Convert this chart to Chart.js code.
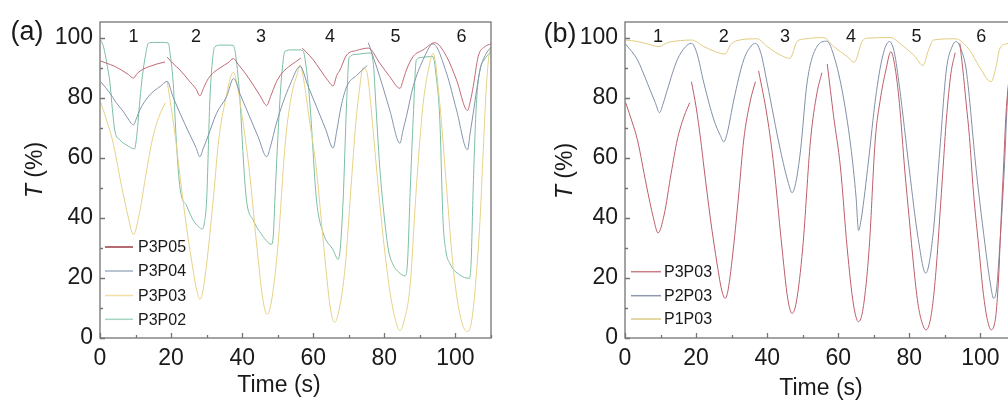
<!DOCTYPE html>
<html>
<head>
<meta charset="utf-8">
<script src="https://cdn.jsdelivr.net/npm/chart.js@4.4.1/dist/chart.umd.min.js"></script>
<style>
  html, body { margin: 0; padding: 0; background: #fff; overflow: hidden; width: 1008px; height: 403px; }
  .panel { position: absolute; top: 0; height: 403px; }
  #wrapA { left: 0; width: 504px; }
  #wrapB { left: 504px; width: 520px; }
</style>
</head>
<body>
<div class="panel" id="wrapA"><canvas id="chartA" width="504" height="403"></canvas></div>
<div class="panel" id="wrapB"><canvas id="chartB" width="520" height="403"></canvas></div>
<script>
// ---- data, panel (a) ----
const timeP3P05a = [0.2,2,4,6,8,9.4,10.5,12,14,16,18.3,18.6,18.9,20.5,22.5,25,27,28.1,29.2,30.5,32,34,36,37.5,39,41,43,45,46.9,48,49.5,51,53,55,56.5,56.7,56.9,58,60,62,64,65.6,66.6,67.5,69.4,72.2,75.5,78.7,81.5,84.4,85.3,86.2,88.1,90.9,94.2,97.5,100.3,103.4,104.2,105,106.4,108.3,110];
const transP3P05a = [92.3,91.5,90.6,89.3,87.8,86.6,88.2,89.5,90.5,91.3,92,null,93.6,91.5,89.3,85.8,83,80.7,83.5,86.5,88.5,90.2,91.7,93.1,91,88,84.5,80.8,77.5,80.5,85,88,90.3,92,93.3,null,96.6,95.3,92.7,89.3,86,84,87.5,89.3,94.3,95.8,96.6,91.6,87.1,83.2,86,89.3,93.8,96,98.4,93.8,86,75.8,79,83.8,93.8,97.1,98];

const timeP3P04a = [0.2,2.8,4.5,6.6,8.2,9.4,10.2,11.2,14,16.9,18.9,20.5,22.5,25.3,27,28.1,29,30,32.8,35.6,37.6,39.5,42,44.5,46.9,48,49.5,51.5,53.5,56.3,58.5,61,63.5,65.6,66.6,67.8,69.4,72.2,75.2,75.35,75.5,78.7,81.5,84.4,85.2,86.2,88.1,90.9,93.7,97.5,100.3,103.4,104.1,105,106.9,108.5,110];
const transP3P04a = [85.4,81.6,78.5,75.4,72.5,71,73,76,81,83.8,85.5,80.5,74.9,67.7,63.5,60.4,63,66,74.9,80.4,86.5,81,74,67,60.4,64,71,78.5,84.5,90.5,84,76.8,69.5,63.3,69,77,83.8,87.5,90.8,null,98.4,87.1,76,64.9,69,73.8,83.8,92.7,98,88.2,76,62.7,68,74.9,89.3,94.5,97];

const timeP3P03a = [0.2,2,3.5,6,8,9.4,11,13,14.7,16.6,18.4,18.6,18.9,20,21.3,22.2,24,26,27.2,28.1,29,30.5,32,33.4,35.3,37.5,38.5,40,41.9,44,45.8,47,48.2,50,52.2,54,55.5,56.3,57.3,59,60.8,63,64.8,66,67.2,69,70.6,72,73,74,75,76,77.3,78.7,80,81.5,83,84.4,85.6,87.2,89,90.9,92.8,93.7,95.6,97.5,99.4,101.2,102.3,103.4,104.6,105.8,106.9,107.8,108.7,109.7,110];
const transP3P03a = [78.6,72,66,51,40,34.5,41,55,66,73.8,78.4,null,85.5,77,66,57,40,24,16,12.9,16,30,48,66,79.3,88.5,85,73.8,57,32,13,7.9,12,30,66,81.6,88,91,86,72,57,30,10,5.2,9,24,50,72,83,90,89,80,63,45,30,16,6.5,2.5,6,17,50,78,91.6,94.9,78,50,23,8.2,3.5,2.1,6,20,39,62,84,96,96.5];

const timeP3P02a = [0.2,1,2,2.8,3.5,4.2,5.6,7.5,9.7,10.4,11.2,12,12.7,13.6,15,17,19.2,19.8,20.6,21.5,22.5,24.4,26.2,27.8,28.8,29.3,30,30.9,31.6,32.3,34,36,37.5,38.2,39.4,40.3,41.2,43.1,45.9,47.5,48.3,48.8,49.2,50.6,51.3,52,54,56,57.1,57.8,59,60.9,62.8,65.6,67,67.6,68.4,69.4,70.1,72,74,76.3,77,77.5,78.7,80,81.2,82.5,84,85.8,86.5,87.3,88.1,89,90.5,92,93.7,94.5,95.6,96.5,97.3,98.4,101.2,103.9,104.4,105,105.9,106.9,108,109.7,110];
const transP3P02a = [99.3,97,91,85,76,69,66,64.3,63,68,79,88,93.5,98.2,98.5,98.5,98.3,94,85,65,50,44,39.3,37,36.3,38,46,79,92,97,97.6,97.6,97.5,94,79,60,46,39.3,33.8,31.6,31.2,35,46,79,90,95.5,96,96,95.8,92,79,46,35,29.3,26.2,30,46,79,93.5,94.5,94.8,95,90,80,57,40,29,24.3,22,20.7,25,50,72.7,92.7,93.5,93.7,93.8,88,72.7,39.3,29,24.9,21,19.9,25,50.4,78.2,89.3,92.5,94.9,95];

// ---- data, panel (b) ----
const timeP3P03b = [0.2,2,3.5,6,8,9.3,11,13,14.7,16.6,18.2,18.45,18.7,20,21.3,22.2,24,26,27.2,28.2,29,30.5,32,33.4,35.3,36.7,37.1,37.6,40,41.9,44,45.8,47,48.2,50,52.2,54,55.4,56.1,56.9,58.7,60.6,62.5,64.3,65.7,67,68.7,70.4,71.8,73.4,74.8,76,77.2,78.7,80,81.2,82.4,83.6,84.7,85.7,86.6,87.6,88.5,89.5,90.4,91.7,92.9,93.6,94.2,95,96,96.9,98,99.7,100.6,101.6,102.4,103,103.8,104.4,105.1,105.8,106.5,107.2,108.2,109.2,110];
const transP3P03b = [78.4,72,66,51,40,35,41,55,66,73.8,78.4,null,85.4,77,66,57,40,24,16,13.2,16,30,48,66,79.3,85.4,null,89,73.8,57,32,13,8.2,12,30,66,81.6,88.4,null,91.3,73.8,57,30,11,5.4,10,30,66,79.3,89.3,95.4,90,78.2,56,39.3,24,11.6,5,2.7,5,11.6,24,39.3,57,72.7,88.2,95.1,null,98.2,90,78,67.1,49,28.2,17,8.2,4,2.7,4,8.2,20,39.3,57,74.9,88,95,97];

const timeP2P03b = [0.2,3.5,6.3,8.5,9.7,10.7,11.9,14.7,17,18.7,20.2,22.2,25,26.8,27.8,28.8,30.6,33.4,35.5,36.7,38.2,40,43.7,46,47,48,49.4,51.2,54,56.8,58.5,61,63.5,65,65.7,66.5,68.5,70.5,72.5,74.4,75.8,77.2,80,82.4,84.6,86.6,88.5,90.4,92,93.2,94.6,96,98.8,101.6,102.8,103.7,104.5,105.3,106.7,107.6,109,110];
const transP2P03b = [97.9,92.7,84.9,78.5,75.1,78,82.7,92.7,97,98.2,95,84.9,72.7,67.5,65.4,68.5,79.3,92.7,97.3,98.2,95,84.9,62.7,51.5,48.4,51.5,62.7,84.9,97.1,98.9,95,83,64,47,35.8,40,59,80,94,98.8,95,83.8,56,33.8,21.6,33.8,61.6,89.3,97,98.8,96,89.3,56,28.2,18,13.2,16,28.2,56,79.3,93,97];

const timeP1P03b = [0.2,3.5,7.2,9.6,11.9,15.6,18.7,22.2,25.5,28.1,29.7,31.5,37.2,40,43.7,46.4,48.4,50.3,55.9,58.7,62.5,64.5,66.7,68.1,74.6,78.4,81.6,83.8,85.4,86.8,92.9,94.1,96.9,99.7,103,104.4,105.3,107.2,110];
const transP1P03b = [99.3,98.8,97.7,97.1,98.4,99.1,99.3,97.1,95.4,94.6,97.7,99.1,99.7,97.1,94.3,93.2,98.8,99.6,100.1,97.1,93.8,91.9,98.8,99.9,100.1,97.1,93.8,90.8,96,99.3,99.7,99.3,96,90.4,85.4,90.4,96,98,98.5];

const xTicks = [0, 20, 40, 60, 80, 100];
const yTicks = [0, 20, 40, 60, 80, 100];
const cycleLabels = ["1", "2", "3", "4", "5", "6"];
const cycleTimesA = [9.4, 27, 45.3, 64.7, 83.1, 101.7];
const cycleTimesB = [9.3, 27.8, 45, 63.6, 82, 100.2];

const fontFamily = "'Liberation Sans', Arial, sans-serif";
const axisColor = "#747474";
const textColor = "#1a1a1a";

const toPoints = (times, vals) => times.map((t, i) => ({ x: t, y: vals[i] }));

const series = (label, times, vals, color, legendColor) => ({
  label: label,
  data: toPoints(times, vals),
  borderColor: color,
  legendColor: legendColor,
  borderWidth: 1,
  pointRadius: 0,
  fill: false,
  spanGaps: false,
  cubicInterpolationMode: "monotone",
});

// frame, inward ticks, legend and texts
const decorPlugin = {
  id: "decor",
  afterDraw(chart, args, opts) {
    const { ctx, chartArea: a } = chart;
    const x = chart.scales.x, y = chart.scales.y;
    ctx.save();
    ctx.strokeStyle = axisColor;
    ctx.lineWidth = 1.3;
    ctx.strokeRect(a.left, a.top, a.right - a.left, a.bottom - a.top);
    ctx.beginPath();
    for (let v = 0; v <= 110; v += 10) {
      const px = Math.round(x.getPixelForValue(v)) + 0.5;
      const len = v % 20 === 0 ? 5 : 3;
      ctx.moveTo(px, a.bottom);
      ctx.lineTo(px, a.bottom - len);
    }
    for (let v = 0; v <= 100; v += 10) {
      const py = Math.round(y.getPixelForValue(v)) + 0.5;
      const len = v % 20 === 0 ? 5 : 3;
      ctx.moveTo(a.left, py);
      ctx.lineTo(a.left + len, py);
    }
    ctx.stroke();

    // cycle numbers
    ctx.fillStyle = textColor;
    ctx.font = "18px " + fontFamily;
    ctx.textAlign = "center";
    ctx.textBaseline = "middle";
    opts.cycleTimes.forEach((t, i) => {
      ctx.fillText(cycleLabels[i], x.getPixelForValue(t), opts.cycleY);
    });

    // legend
    ctx.font = "16px " + fontFamily;
    ctx.textAlign = "left";
    const lg = opts.legend;
    chart.data.datasets.forEach((ds, i) => {
      const ly = lg.rows[i];
      ctx.strokeStyle = ds.legendColor;
      ctx.lineWidth = 1.5;
      ctx.beginPath();
      ctx.moveTo(lg.x1, ly);
      ctx.lineTo(lg.x2, ly);
      ctx.stroke();
      ctx.fillStyle = textColor;
      ctx.fillText(ds.label, lg.tx, ly + 1);
    });

    // panel tag
    ctx.font = "27px " + fontFamily;
    ctx.textAlign = "center";
    ctx.fillText(opts.tag, opts.tagX, opts.tagY);

    // x title
    ctx.font = "23px " + fontFamily;
    ctx.fillText("Time (s)", opts.xTitleX, opts.xTitleY);

    // y title, rotated, italic T
    ctx.translate(opts.yTitleX, opts.yTitleY);
    ctx.rotate(-Math.PI / 2);
    ctx.font = "italic 23px " + fontFamily;
    const wT = ctx.measureText("T").width;
    ctx.font = "23px " + fontFamily;
    const wRest = ctx.measureText(" (%)").width;
    const start = -(wT + wRest) / 2;
    ctx.textAlign = "left";
    ctx.font = "italic 23px " + fontFamily;
    ctx.fillText("T", start, 0);
    ctx.font = "23px " + fontFamily;
    ctx.fillText(" (%)", start + wT, 0);
    ctx.restore();
  },
};

const makeOptions = (yWidth, padRight, decor) => ({
  responsive: false,
  animation: false,
  layout: { padding: { left: 0, right: padRight, top: 22, bottom: 0 } },
  plugins: { legend: { display: false }, tooltip: { enabled: false }, decor: decor },
  scales: {
    x: {
      type: "linear",
      min: 0,
      max: 110,
      grid: { display: false, drawTicks: false },
      border: { display: false },
      afterBuildTicks: (scale) => { scale.ticks = xTicks.map((v) => ({ value: v })); },
      afterFit: (scale) => { scale.height = 65; },
      ticks: { padding: 7, color: textColor, font: { family: fontFamily, size: 23 }, maxRotation: 0 },
    },
    y: {
      type: "linear",
      min: 0,
      max: 105.3,
      grid: { display: false, drawTicks: false },
      border: { display: false },
      afterBuildTicks: (scale) => { scale.ticks = yTicks.map((v) => ({ value: v })); },
      afterFit: (scale) => { scale.width = yWidth; },
      ticks: { padding: 7, color: textColor, font: { family: fontFamily, size: 23 } },
    },
  },
});

new Chart(document.getElementById("chartA"), {
  type: "line",
  data: {
    datasets: [
      series("P3P05", timeP3P05a, transP3P05a, "#c06874", "#9b3a44"),
      series("P3P04", timeP3P04a, transP3P04a, "#8494ad", "#a3b0c2"),
      series("P3P03", timeP3P03a, transP3P03a, "#e6d288", "#eee0a6"),
      series("P3P02", timeP3P02a, transP3P02a, "#7cbfa2", "#a6d6c2"),
    ],
  },
  options: makeOptions(100, 13, {
    cycleTimes: cycleTimesA, cycleY: 37,
    legend: { x1: 105, x2: 133, tx: 138, rows: [247, 271, 295.5, 319.3] },
    tag: "(a)", tagX: 27, tagY: 33,
    xTitleX: 279, xTitleY: 386,
    yTitleX: 36, yTitleY: 170,
  }),
  plugins: [decorPlugin],
});

new Chart(document.getElementById("chartB"), {
  type: "line",
  data: {
    datasets: [
      series("P3P03", timeP3P03b, transP3P03b, "#bd5e6a", "#c97e88"),
      series("P2P03", timeP2P03b, transP2P03b, "#8090a8", "#8d9aae"),
      series("P1P03", timeP1P03b, transP1P03b, "#e2cb80", "#dccb8a"),
    ],
  },
  options: makeOptions(121, 8, {
    cycleTimes: cycleTimesB, cycleY: 37,
    legend: { x1: 127, x2: 157, tx: 160, rows: [271.7, 295.7, 319] },
    tag: "(b)", tagX: 56, tagY: 35,
    xTitleX: 317, xTitleY: 389,
    yTitleX: 62, yTitleY: 171,
  }),
  plugins: [decorPlugin],
});
</script>
</body>
</html>
